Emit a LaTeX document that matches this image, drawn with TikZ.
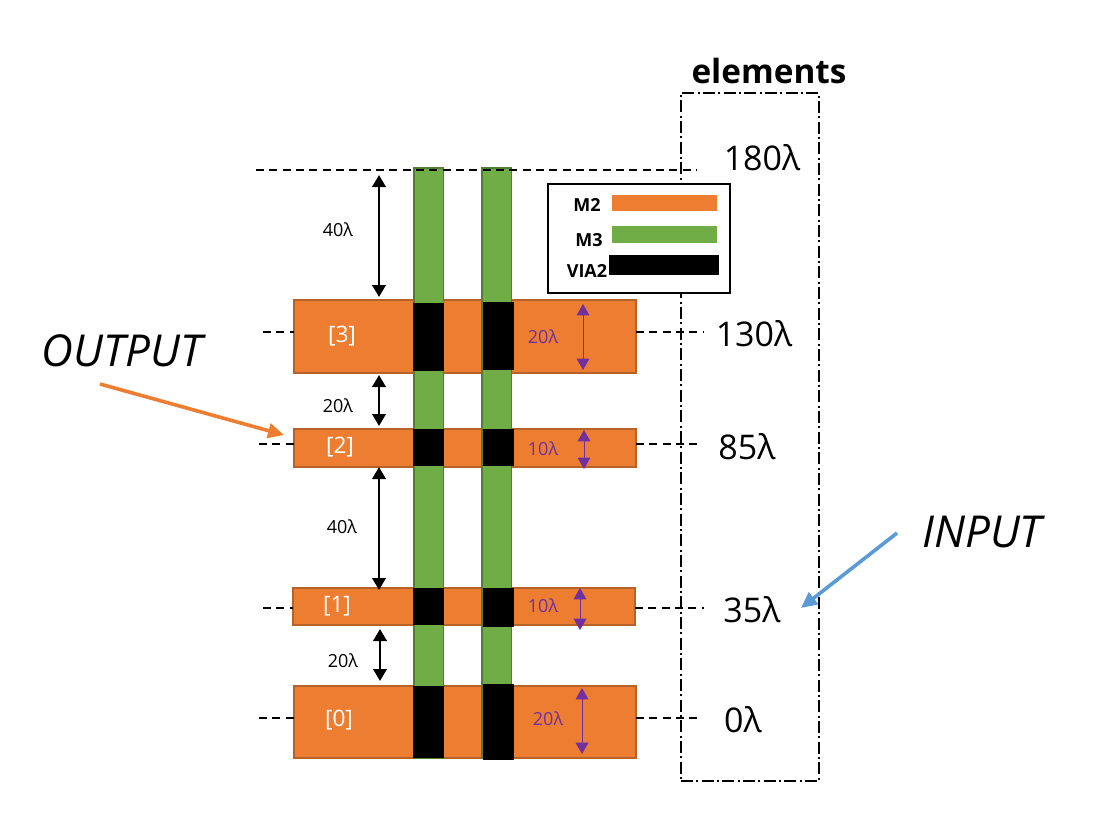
\documentclass[tikz,border=0pt]{standalone}
\usepackage{fontspec}
\setmainfont{Open Sans}
\usetikzlibrary{arrows.meta}
\definecolor{mtwo}{HTML}{ED7D31}
\definecolor{mtwoline}{HTML}{B5622B}
\definecolor{mthree}{HTML}{70AD47}
\definecolor{mthreeline}{HTML}{507E32}
\definecolor{dimpurple}{HTML}{7030A0}
\definecolor{inblue}{HTML}{5B9BD5}

\begin{document}
\begin{tikzpicture}[
  x=0.75pt, y=-0.75pt,
  bar/.style={rectangle, draw=mtwoline, fill=mtwo, line width=0.9pt, outer sep=0pt,
              inner sep=0pt, minimum width=256.5pt, anchor=north west},
  rail/.style={rectangle, draw=mthreeline, fill=mthree, line width=0.9pt, outer sep=0pt,
               inner sep=0pt, minimum width=22pt, minimum height=442.5pt, anchor=north west},
  via/.style={rectangle, fill=black, outer sep=0pt, inner sep=0pt,
              minimum width=23pt, anchor=north west},
  swatch/.style={rectangle, outer sep=0pt, inner sep=0pt, anchor=north west},
  lvl/.style={dashed, dash pattern=on 6pt off 4pt, line width=1pt},
  gap/.style={{Triangle[length=9pt,width=10pt]}-{Triangle[length=9pt,width=10pt]}, line width=2pt},
  thk/.style={{Triangle[length=8.5pt,width=9.5pt]}-{Triangle[length=8.5pt,width=9.5pt]}, line width=0.75pt, draw=dimpurple, color=dimpurple},
  small/.style={font=\fontsize{13.5}{16}\selectfont},
  brk/.style={font=\fontsize{17}{20}\selectfont, text=white},
  val/.style={font=\fontsize{25.5}{30}\selectfont},
  side/.style={font=\fontsize{33}{38}\selectfont\itshape},
  leg/.style={font=\fontsize{13.5}{16}\selectfont\bfseries}]

% ---- elements frame --------------------------------------------------
\node[rectangle, draw, line width=1.1pt, dash pattern=on 9pt off 2.5pt on 1.5pt off 2.5pt,
      outer sep=0pt, minimum width=103.5pt, minimum height=516pt, anchor=north west]
      (frame) at (681,93) {};
\node[font=\fontsize{25}{30}\selectfont\bfseries] (title) at (769,71) {elements};

% ---- metal 2 and metal 3 ---------------------------------------------
\node[bar, minimum height=54.75pt] (bthree) at (294,300) {};
\node[bar, minimum height=28.5pt] (btwo) at (294,429) {};
\node[bar, minimum height=27.75pt] (bone) at (293,588) {};
\node[bar, minimum height=54pt] (bzero) at (294,686) {};
\node[rail] (rleft) at (414,168) {};
\node[rail] (rright) at (482,168) {};

% ---- vias --------------------------------------------------------------
\node[via, minimum height=51pt] (vathree) at (413,303) {};
\node[via, minimum height=51pt] (vbthree) at (483,302) {};
\node[via, minimum height=27.75pt] (vatwo) at (413,429) {};
\node[via, minimum height=27.75pt] (vbtwo) at (483,429) {};
\node[via, minimum height=27.75pt] (vaone) at (413,588) {};
\node[via, minimum height=29.25pt] (vbone) at (483,588) {};
\node[via, minimum height=54pt] (vazero) at (413,686) {};
\node[via, minimum height=57pt] (vbzero) at (483,684) {};

\node[brk] (lthree) at (342,336) {[3]};
\node[brk] (ltwo) at (340,447) {[2]};
\node[brk] (lone) at (337,606) {[1]};
\node[brk] (lzero) at (339,720) {[0]};

% ---- level lines -------------------------------------------------------
\coordinate (ctop) at (256,170);
\coordinate (ctopr) at (697,170);
\draw[lvl] (ctop) -- (ctopr);
\foreach \nm/\lx/\rx/\yy in {bthree/263/704/332, btwo/259/700/444, bone/263/704/608, bzero/259/700/718} {
  \coordinate (a\nm) at (\lx,\yy);
  \coordinate (b\nm) at (\rx,\yy);
  \draw[lvl] (a\nm) -- (a\nm -| \nm.west);
  \draw[lvl] (\nm.east |- b\nm) -- (b\nm);
}

% ---- spacing arrows ----------------------------------------------------
\foreach \i/\xx/\ya/\yb in {0/379/175/297, 1/379/375/426, 2/379/467/590, 3/380/629/681} {
  \coordinate (gt\i) at (\xx,\ya);
  \coordinate (gb\i) at (\xx,\yb);
  \draw[gap] (gt\i) -- (gb\i);
}
\node[small] (sa) at (338,230) {40λ};
\node[small] (sb) at (338,406) {20λ};
\node[small] (sc) at (342,527) {40λ};
\node[small] (sd) at (343,661) {20λ};

% ---- widths ------------------------------------------------------------
\foreach \i/\xx/\ya/\yb in {0/583/304/370, 1/584/430/469, 2/580/588/630, 3/582/688/754} {
  \coordinate (pt\i) at (\xx,\ya);
  \coordinate (pb\i) at (\xx,\yb);
  \draw[thk] (pt\i) -- (pb\i);
}
\node[small, text=dimpurple] (wa) at (543,337) {20λ};
\node[small, text=dimpurple] (wb) at (543,449) {10λ};
\node[small, text=dimpurple] (wc) at (543,606) {10λ};
\node[small, text=dimpurple] (wd) at (548,719) {20λ};

% ---- heights -----------------------------------------------------------
\node[val] (ha) at (762,158) {180λ};
\node[val] (hb) at (754,334) {130λ};
\node[val] (hc) at (747,447) {85λ};
\node[val] (hd) at (752,610) {35λ};
\node[val] (he) at (743,720) {0λ};

% ---- legend ------------------------------------------------------------
\node[rectangle, draw, fill=white, line width=1.1pt, outer sep=0pt,
      minimum width=136.5pt, minimum height=81.75pt, anchor=north west] (legend) at (548,184) {};
\node[swatch, fill=mtwo, minimum width=78.75pt, minimum height=12pt] (sw) at (612,195) {};
\node[swatch, fill=mthree, minimum width=78.75pt, minimum height=12.75pt] (sg) at (612,226) {};
\node[swatch, fill=black, minimum width=82.5pt, minimum height=15pt] (sk) at (609,255) {};
\node[leg] (ltw) at (587,205) {M2};
\node[leg] (lth) at (589,240) {M3};
\node[leg] (lvi) at (587,271) {VIA2};

% ---- ports -------------------------------------------------------------
\node[side] (output) at (122,351) {OUTPUT};
\node[side] (input) at (982,532) {INPUT};
\coordinate (ofrom) at (100,384);
\coordinate (oto) at (284,435);
\coordinate (ifrom) at (897,533);
\coordinate (ito) at (801,608);
\draw[-{Triangle[length=12pt,width=11pt]}, line width=2.7pt, draw=mtwo] (ofrom) -- (oto);
\draw[-{Triangle[length=12pt,width=11pt]}, line width=2.7pt, draw=inblue] (ifrom) -- (ito);

\path[use as bounding box] (0,0) rectangle (1102,836);
\end{tikzpicture}
\end{document}
